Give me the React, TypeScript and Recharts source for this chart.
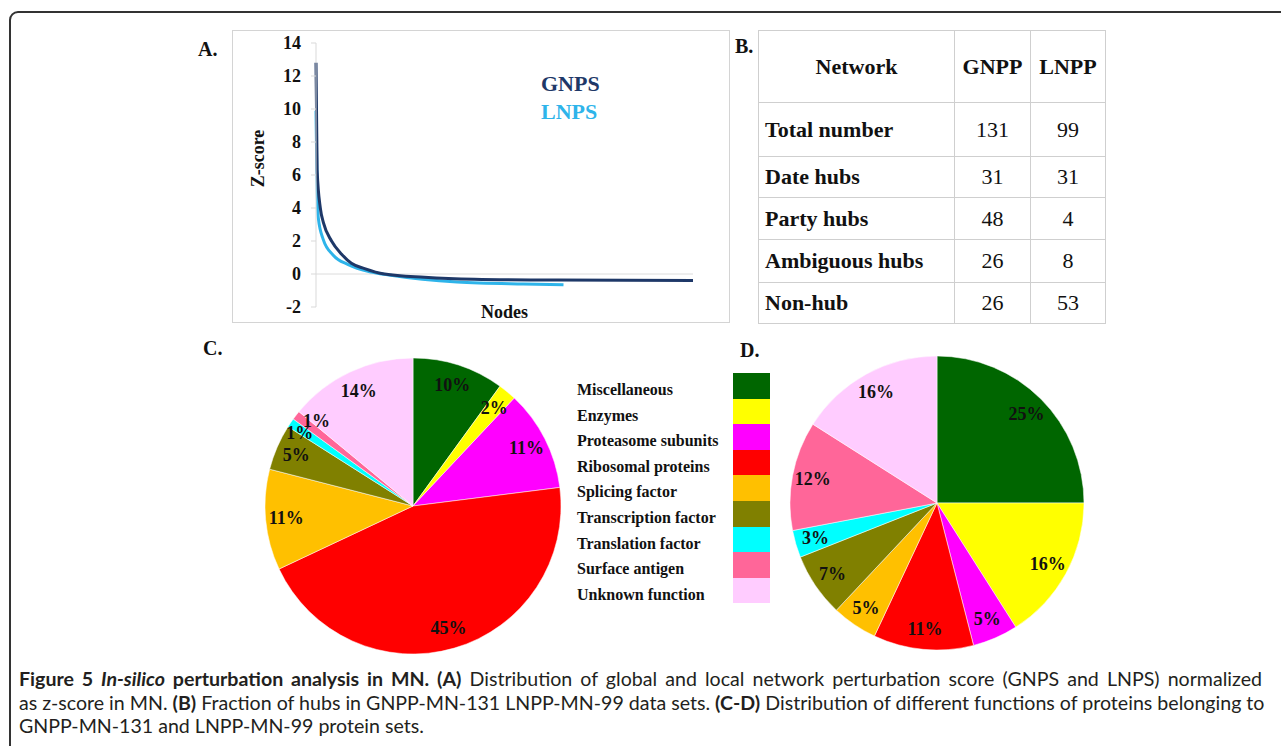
import React from "react";
import { Cell, Line, LineChart, Pie, PieChart, ReferenceLine, XAxis, YAxis } from "recharts";

// panel A: z-score curves (node index along x)
const gnpsNodes = [0, 0.4, 1.5, 2.6, 5.4, 8.9, 12.3, 16.9, 23.8, 37.7, 55, 84, 107, 131];
const gnpsScores = [12.8, 6.3, 4.0, 3.1, 2.0, 1.2, 0.65, 0.33, 0.0, -0.2, -0.32, -0.37, -0.38, -0.4];
const lnpsNodes = [0, 0.3, 0.8, 2.5, 6, 11.2, 19.2, 26, 49, 72, 86];
const lnpsScores = [9.9, 6.1, 3.4, 2.1, 1.14, 0.57, 0.12, -0.08, -0.49, -0.61, -0.65];
const zTicks = [-2, 0, 2, 4, 6, 8, 10, 12, 14];

// panel B: hub table
const hubRows = ["Total number", "Date hubs", "Party hubs", "Ambiguous hubs", "Non-hub"];
const gnppCounts = [131, 31, 48, 26, 26];
const lnppCounts = [99, 31, 4, 8, 53];

// panels C-D: protein functions
const categories = [
  "Miscellaneous",
  "Enzymes",
  "Proteasome subunits",
  "Ribosomal proteins",
  "Splicing factor",
  "Transcription factor",
  "Translation factor",
  "Surface antigen",
  "Unknown function",
];
const functionColors = ["#006600", "#ffff00", "#ff00ff", "#ff0000", "#ffc000", "#808000", "#00ffff", "#ff6699", "#ffccff"];
const gnppShares = [10, 2, 11, 45, 11, 5, 1, 1, 14];
const lnppShares = [25, 16, 5, 11, 5, 7, 3, 12, 16];

const SERIF = "'Liberation Serif', 'Times New Roman', serif";
const RAD = Math.PI / 180;

const gnpsData = gnpsNodes.map((node, i) => ({ node, z: gnpsScores[i] }));
const lnpsData = lnpsNodes.map((node, i) => ({ node, z: lnpsScores[i] }));

const abs = (left: number, top: number): React.CSSProperties => ({ position: "absolute", left, top });

// the two thin 1% slices in C have their labels pushed apart a bit
const nudgeC: Record<number, [number, number]> = { 6: [-8, -1], 7: [4, -7] };

const makeLabel = (nudge: Record<number, [number, number]>) => (p: any) => {
  const r = p.outerRadius * 0.86;
  const [dx, dy] = nudge[p.index] || [0, 0];
  const x = p.cx + r * Math.cos(-p.midAngle * RAD) + dx;
  const y = p.cy + r * Math.sin(-p.midAngle * RAD) + dy;
  return (
    <text x={x} y={y} textAnchor="middle" dominantBaseline="central" fill="#111" fontFamily={SERIF} fontWeight="bold" fontSize={18}>
      {p.value}%
    </text>
  );
};

function FunctionPie({ shares, r, nudge }: { shares: number[]; r: number; nudge: Record<number, [number, number]> }) {
  const data = categories.map((name, i) => ({ name, value: shares[i] }));
  return (
    <PieChart width={320} height={320}>
      <Pie
        data={data}
        dataKey="value"
        cx={160}
        cy={160}
        outerRadius={r}
        startAngle={90}
        endAngle={-270}
        stroke="rgba(255,255,255,0.5)"
        strokeWidth={1}
        label={makeLabel(nudge)}
        labelLine={false}
        isAnimationActive={false}
      >
        {data.map((d, i) => (
          <Cell key={d.name} fill={functionColors[i]} />
        ))}
      </Pie>
    </PieChart>
  );
}

const panelTag: React.CSSProperties = { fontFamily: SERIF, fontWeight: "bold", fontSize: 20, lineHeight: "20px", color: "#111" };
const justified: React.CSSProperties = { textAlign: "justify", textAlignLast: "justify" };

export default function App() {
  const rowHeights = [54, 41, 42, 43, 41];
  const cell: React.CSSProperties = {
    border: "1px solid #cfcfcf",
    fontFamily: SERIF,
    fontSize: 22,
    color: "#111",
    padding: "0 6px",
  };
  return (
    <div style={{ position: "absolute", left: 0, top: 0, width: 1281, height: 746, overflow: "hidden", background: "#fff" }}>
      <div style={{ ...abs(9, 11), width: 1320, height: 800, border: "2px solid #333", borderRadius: 9, boxSizing: "border-box" }} />

      {/* A */}
      <div style={{ ...abs(198, 39), ...panelTag }}>A.</div>
      <div style={{ ...abs(232, 30), width: 498, height: 293, border: "1px solid #d4d4d4", boxSizing: "border-box" }} />
      <div style={abs(232, 30)}>
        <LineChart width={498} height={293} margin={{ top: 13, right: 37, bottom: 16, left: 40 }}>
          <XAxis dataKey="node" type="number" domain={[0, 131]} hide allowDuplicatedCategory={false} />
          <YAxis
            type="number"
            domain={[-2, 14]}
            ticks={zTicks}
            interval={0}
            width={44}
            tickSize={5}
            tickMargin={10}
            axisLine={{ stroke: "#d9d9d9" }}
            tickLine={{ stroke: "#d9d9d9" }}
            tick={{ fill: "#111", fontSize: 18, fontWeight: "bold", fontFamily: SERIF }}
          />
          <ReferenceLine y={0} stroke="#dcdcdc" />
          <Line data={lnpsData} dataKey="z" type="monotone" stroke="#2eb4ea" strokeWidth={3} dot={false} isAnimationActive={false} />
          <Line data={gnpsData} dataKey="z" type="monotone" stroke="#1e3868" strokeWidth={3} dot={false} isAnimationActive={false} />
        </LineChart>
      </div>
      <div
        style={{
          ...abs(223, 148),
          fontFamily: SERIF,
          fontWeight: "bold",
          fontSize: 18,
          color: "#111",
          transform: "rotate(-90deg)",
          transformOrigin: "center",
          width: 70,
          textAlign: "center",
        }}
      >
        Z-score
      </div>
      <div style={{ ...abs(481, 302), fontFamily: SERIF, fontWeight: "bold", fontSize: 18, color: "#111" }}>Nodes</div>
      <div style={{ ...abs(541, 70), fontFamily: SERIF, fontWeight: "bold", fontSize: 22, lineHeight: "28px" }}>
        <div style={{ color: "#1e3868" }}>GNPS</div>
        <div style={{ color: "#2eb4ea" }}>LNPS</div>
      </div>

      {/* B */}
      <div style={{ ...abs(735, 36), ...panelTag }}>B.</div>
      <table style={{ ...abs(758, 30), width: 347, borderCollapse: "collapse", tableLayout: "fixed" }}>
        <colgroup>
          <col style={{ width: 196 }} />
          <col style={{ width: 76 }} />
          <col style={{ width: 75 }} />
        </colgroup>
        <tbody>
          <tr style={{ height: 72 }}>
            <td style={{ ...cell, fontWeight: "bold", textAlign: "center" }}>Network</td>
            <td style={{ ...cell, fontWeight: "bold", textAlign: "center", padding: 0 }}>GNPP</td>
            <td style={{ ...cell, fontWeight: "bold", textAlign: "center", padding: 0 }}>LNPP</td>
          </tr>
          {hubRows.map((name, i) => (
            <tr key={name} style={{ height: rowHeights[i] }}>
              <td style={{ ...cell, fontWeight: "bold" }}>{name}</td>
              <td style={{ ...cell, textAlign: "center" }}>{gnppCounts[i]}</td>
              <td style={{ ...cell, textAlign: "center" }}>{lnppCounts[i]}</td>
            </tr>
          ))}
        </tbody>
      </table>

      {/* C */}
      <div style={{ ...abs(203, 338), ...panelTag }}>C.</div>
      <div style={abs(248, 341)}>
        <FunctionPie shares={gnppShares} r={148} nudge={nudgeC} />
      </div>

      {/* legend */}
      <div style={abs(577, 377)}>
        {categories.map((name) => (
          <div key={name} style={{ height: 25.6, lineHeight: "25.6px", fontFamily: SERIF, fontWeight: "bold", fontSize: 16, color: "#111", whiteSpace: "nowrap" }}>
            {name}
          </div>
        ))}
      </div>
      <div style={{ ...abs(733, 373), width: 37 }}>
        {functionColors.map((c) => (
          <div key={c} style={{ height: 25.6, background: c }} />
        ))}
      </div>

      {/* D */}
      <div style={{ ...abs(740, 340), ...panelTag }}>D.</div>
      <div style={abs(772, 338)}>
        <FunctionPie shares={lnppShares} r={147} nudge={{}} />
      </div>

      {/* caption */}
      <div style={{ ...abs(19, 667), width: 1243, fontFamily: "Lato, sans-serif", fontSize: 19.6, lineHeight: "23.5px", color: "#231f20", whiteSpace: "nowrap" }}>
        <div style={justified}>
          <b>Figure 5 <i>In-silico</i> perturbation analysis in MN. (A)</b> Distribution of global and local network perturbation score (GNPS and LNPS) normalized
        </div>
        <div style={justified}>
          as z-score in MN. <b>(B)</b> Fraction of hubs in GNPP-MN-131 LNPP-MN-99 data sets. <b>(C-D)</b> Distribution of different functions of proteins belonging to
        </div>
        <div>GNPP-MN-131 and LNPP-MN-99 protein sets.</div>
      </div>
    </div>
  );
}
